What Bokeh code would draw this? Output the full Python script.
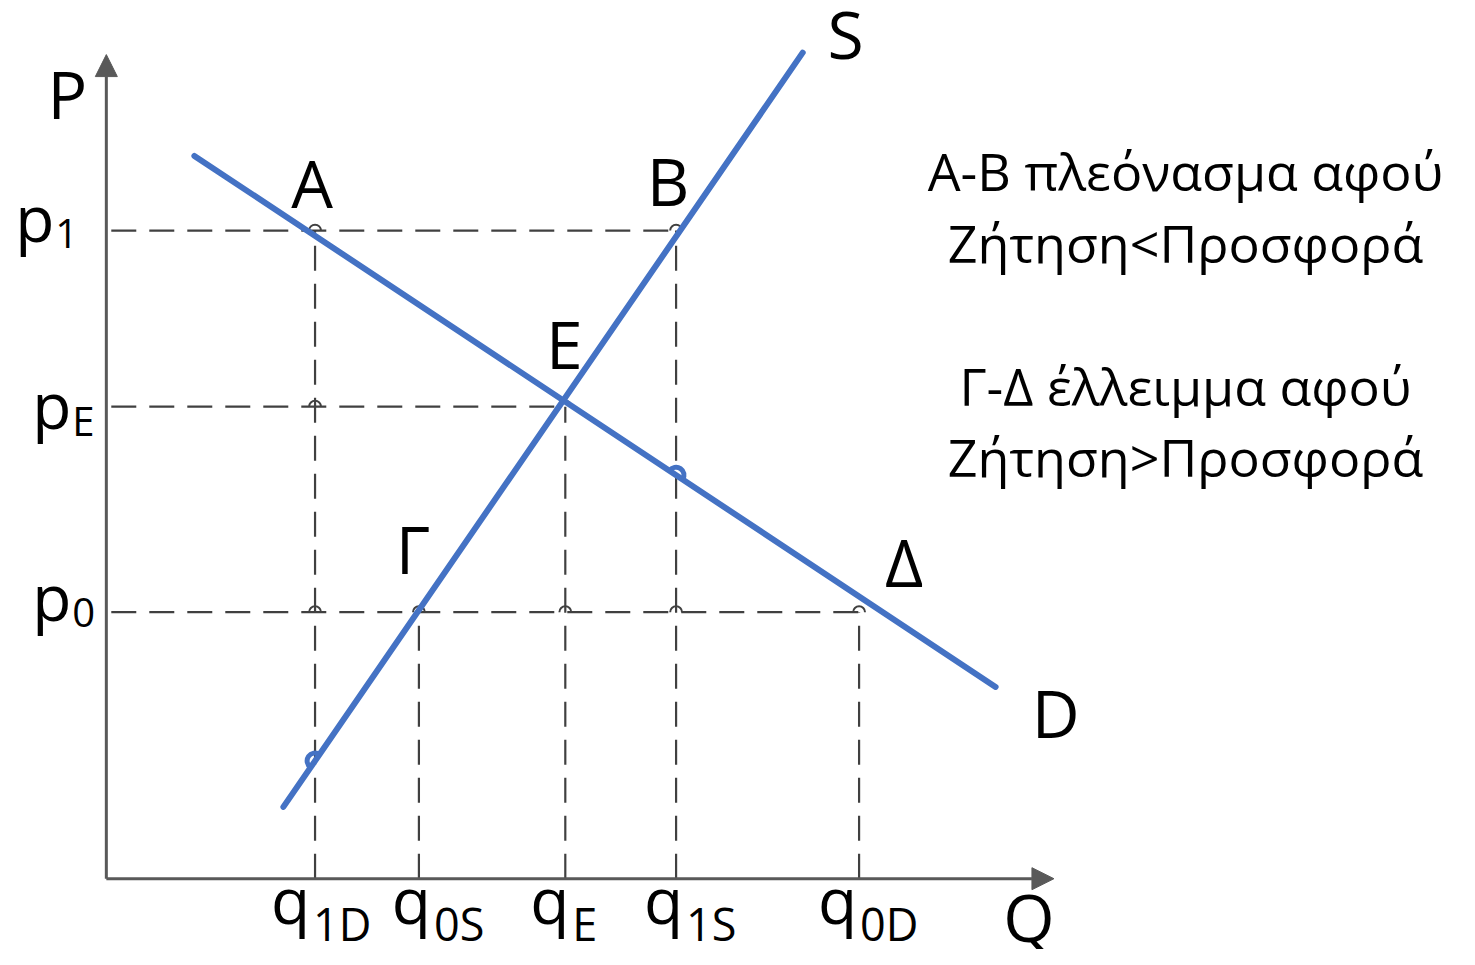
from bokeh.plotting import figure
from bokeh.models import Range1d, Arrow, NormalHead
from bokeh.core.properties import value
from bokeh.embed import file_html
from bokeh.resources import INLINE
import math

# ---------------- data ----------------
# quantity marks on the Q axis and price marks on the P axis
q_names = ["1D", "0S", "E", "1S", "0D"]
q_values = [2.11, 3.16, 4.64, 5.76, 7.61]
p_names = ["1", "E", "0"]
p_values = [6.59, 4.80, 2.71]

# demand (D) and supply (S) lines: end points
demand_q = [0.89, 8.99]
demand_p = [7.35, 1.95]
supply_q = [1.79, 7.04]
supply_p = [0.73, 8.40]

# named points
point_names = ["A", "B", "E", "Γ", "Δ"]
point_q = [2.11, 5.76, 4.64, 3.16, 7.61]
point_p = [6.59, 6.59, 4.80, 2.71, 2.71]

# axes extent
axis_q_max = 9.58
axis_p_max = 8.38

note_lines = ["A-B πλεόνασμα αφού", "Ζήτηση<Προσφορά",
              "Γ-Δ έλλειμμα αφού", "Ζήτηση>Προσφορά"]

# ---------------- styling ----------------
BLUE = "#4472C4"
DASH = "#404040"
AXIS = "#595959"
FONT = "Open Sans"
BL = 0.41  # baseline correction (fraction of font size) for the svg text layout

p = figure(width=1459, height=949, output_backend="svg", toolbar_location=None,
           x_range=Range1d(-1.07, 13.68), y_range=Range1d(-0.72, 8.93),
           min_border=0)
p.axis.visible = False
p.grid.visible = False
p.outline_line_color = None
p.background_fill_color = "white"
p.border_fill_color = "white"

# dashed guide lines: horizontal per price level to the farthest point, vertical per point
hx0, hx1, hy = [], [], []
for pv in sorted(set(point_p)):
    qmax = max(q for q, pp in zip(point_q, point_p) if pp == pv)
    hx0.append(0.05); hx1.append(qmax); hy.append(pv)
p.segment(x0=hx0, y0=hy, x1=hx1, y1=hy, line_color=DASH, line_width=2.2, line_dash="25 13")
p.segment(x0=point_q, y0=[0] * len(point_q), x1=point_q, y1=point_p,
          line_color=DASH, line_width=2.2, line_dash="25 13")

# small hops where dashed lines cross
hop_x, hop_y = [], []
for pv, qe in zip(hy, hx1):
    for q, pt in zip(point_q, point_p):
        if q <= qe + 1e-9 and pt >= pv - 1e-9:
            hop_x.append(q); hop_y.append(pv)
p.arc(x=hop_x, y=hop_y, radius=0.06, start_angle=0, end_angle=math.pi,
      line_color=DASH, line_width=2)

# axes with arrow heads
p.add_layout(Arrow(end=NormalHead(size=22, fill_color=AXIS, line_color=AXIS),
                   x_start=0, y_start=0, x_end=0, y_end=axis_p_max,
                   line_color=AXIS, line_width=3))
p.add_layout(Arrow(end=NormalHead(size=22, fill_color=AXIS, line_color=AXIS),
                   x_start=0, y_start=0, x_end=axis_q_max, y_end=0,
                   line_color=AXIS, line_width=3))

# demand and supply lines
p.line(demand_q, demand_p, line_color=BLUE, line_width=6, line_cap="round")
p.line(supply_q, supply_p, line_color=BLUE, line_width=6, line_cap="round")

# blue hops where the curves cross dashed verticals
def on_line(qs, ps, q):
    return ps[0] + (q - qs[0]) * (ps[1] - ps[0]) / (qs[1] - qs[0])

s_ang = math.atan2(supply_p[1] - supply_p[0], supply_q[1] - supply_q[0])
d_ang = math.atan2(demand_p[1] - demand_p[0], demand_q[1] - demand_q[0])
p.arc(x=[q_values[0]], y=[on_line(supply_q, supply_p, q_values[0])], radius=0.08,
      start_angle=s_ang, end_angle=s_ang + math.pi, line_color=BLUE, line_width=5)
p.arc(x=[q_values[3]], y=[on_line(demand_q, demand_p, q_values[3])], radius=0.08,
      start_angle=d_ang, end_angle=d_ang + math.pi, line_color=BLUE, line_width=5)

def txt(x, y, text, dx, dy, size, align="center"):
    p.text(x=x, y=y, text=text, x_offset=dx, y_offset=[d - BL * size for d in dy],
           text_font=value(FONT), text_font_size=f"{size}px", text_align=align,
           text_baseline="alphabetic", text_color="black")

# point labels
txt(point_q, point_p, point_names, [-3, -8, -1, -6, 45], [-22, -24, -37, -37, -24], 66)

# curve and axis labels
txt([supply_q[1], demand_q[1], 0, axis_q_max], [supply_p[1], demand_p[1], axis_p_max, 0],
    ["S", "D", "P", "Q"], [43, 60, -39, -25], [7, 52, 65, 64], 66)

# price tick labels
p_dx = [-52, -35, -35]
p_dy = [13, 24, 11]
txt([0] * 3, p_values, ["p"] * 3, p_dx, p_dy, 64, "right")
txt([0] * 3, p_values, p_names, [d + 1 for d in p_dx], [d + 6 for d in p_dy], 40, "left")

# quantity tick labels
q_dx = [-5, 12, 4, 7, -2]
txt(q_values, [0] * 5, ["q"] * 5, q_dx, [47] * 5, 64, "right")
txt(q_values, [0] * 5, q_names, [d + 3 for d in q_dx], [63] * 5, 45, "left")

# explanatory note
note_x = 10.91
note_y = [6.98, 6.25, 4.80, 4.08]
txt([note_x] * 4, note_y, note_lines, [0] * 4, [0] * 4, 52)

open("out.html", "w").write(file_html(p, INLINE))
